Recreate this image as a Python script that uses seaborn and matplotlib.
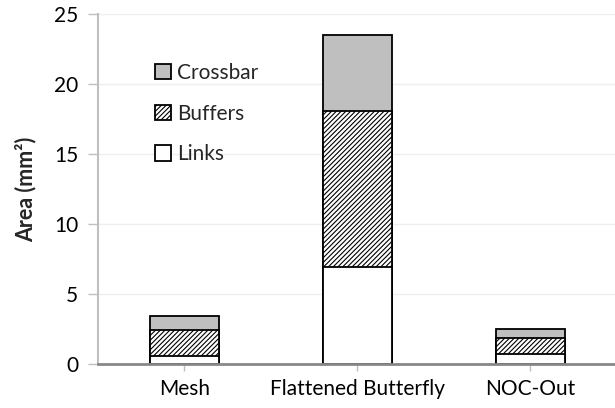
import numpy as np
import matplotlib
matplotlib.use("Agg")
import matplotlib.pyplot as plt
import seaborn as sns

# values (mm^2)
networks = ["Mesh", "Flattened Butterfly", "NOC-Out"]
links = [0.56, 6.93, 0.68]
buffers = [1.84, 11.17, 1.12]
crossbar = [1.02, 5.4, 0.65]

sns.set_theme(style="white")
plt.rcParams["font.family"] = ["Lato", "DejaVu Sans"]
plt.rcParams["hatch.linewidth"] = 0.8
plt.rcParams["hatch.color"] = "black"

# cumulative heights, drawn back to front
top_links = np.array(links)
top_buffers = top_links + np.array(buffers)
top_total = top_buffers + np.array(crossbar)

fig = plt.figure(figsize=(6.15, 4.08), dpi=100)
ax = fig.add_axes([0.159, 0.109, 0.841, 0.856])

sns.barplot(x=networks, y=top_total, color="#bfbfbf", edgecolor="black",
            linewidth=1.3, width=0.4, saturation=1, label="Crossbar", ax=ax)
sns.barplot(x=networks, y=top_buffers, color="white", edgecolor="black",
            linewidth=1.3, width=0.4, saturation=1, hatch="///////",
            label="Buffers", ax=ax)
sns.barplot(x=networks, y=top_links, color="white", edgecolor="black",
            linewidth=1.3, width=0.4, saturation=1, label="Links", ax=ax)

ax.set_ylim(0, 25)
ax.set_xlim(-0.5, 2.49)
ax.set_yticks([0, 5, 10, 15, 20, 25])
ax.yaxis.grid(True, color="#efefef", linewidth=1)
ax.set_axisbelow(True)

for side in ["top", "right"]:
    ax.spines[side].set_visible(False)
ax.spines["left"].set_color("#bfbfbf")
ax.spines["left"].set_linewidth(1.5)
ax.spines["bottom"].set_color("#888888")
ax.spines["bottom"].set_linewidth(2)

ax.tick_params(axis="y", left=True, length=7, width=1, color="#bfbfbf",
               labelsize=15, labelcolor="black", pad=7)
ax.tick_params(axis="x", bottom=True, length=5, width=1, color="#bfbfbf",
               labelsize=15, labelcolor="black", pad=6)

ax.set_ylabel("Area (mm²)", fontsize=15.5, fontweight="bold", labelpad=13)

leg = ax.legend(loc="upper left", bbox_to_anchor=(0.075, 0.915), frameon=False,
                fontsize=15, handlelength=0.75, handleheight=0.75,
                handletextpad=0.3, labelspacing=1.0)

fig.savefig("out.png", dpi=100)
